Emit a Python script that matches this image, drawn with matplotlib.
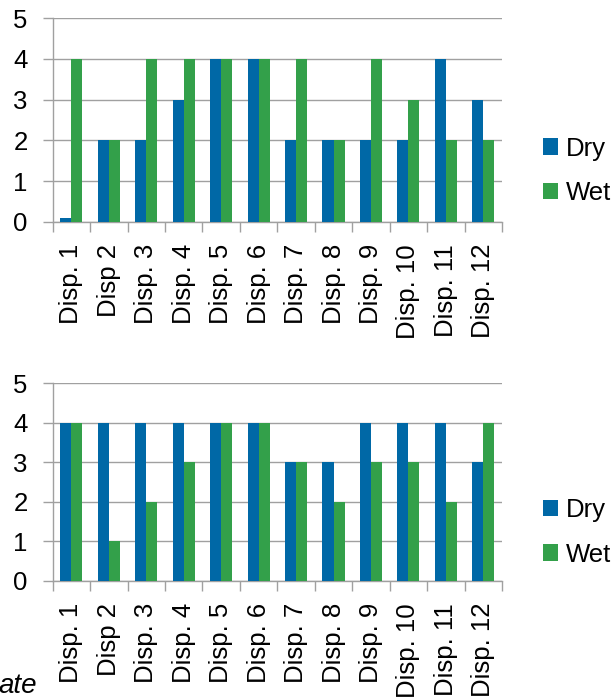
import matplotlib.pyplot as plt
import numpy as np

plt.rcParams["font.family"] = ["Liberation Sans", "DejaVu Sans"]

CATEGORIES = ["Disp. 1", "Disp 2", "Disp. 3", "Disp. 4", "Disp. 5", "Disp. 6",
              "Disp. 7", "Disp. 8", "Disp. 9", "Disp. 10", "Disp. 11", "Disp. 12"]

TOP_DRY = [0.08, 2, 2, 3, 4, 4, 2, 2, 2, 2, 4, 3]
TOP_WET = [4, 2, 4, 4, 4, 4, 4, 2, 4, 3, 2, 2]

BOTTOM_DRY = [4, 4, 4, 4, 4, 4, 3, 3, 4, 4, 4, 3]
BOTTOM_WET = [4, 1, 2, 3, 4, 4, 3, 2, 3, 3, 2, 4]

BLUE = "#0068a6"
GREEN = "#33a04a"
GRID = "#a0a0a0"

W, H = 613, 698


def draw_panel(fig, rect, dry, wet, legend_y):
    ax = fig.add_axes(rect)
    x = np.arange(len(CATEGORIES))
    bw = 0.295
    ax.bar(x - bw / 2, dry, width=bw, color=BLUE, label="Dry", zorder=3)
    ax.bar(x + bw / 2, wet, width=bw, color=GREEN, label="Wet", zorder=3)

    ax.set_xlim(-0.5, len(CATEGORIES) - 0.5)
    ax.set_ylim(0, 5)
    ax.set_yticks(range(6))
    ax.yaxis.grid(True, color=GRID, lw=1.0, zorder=0)
    ax.set_axisbelow(True)

    # category boundaries carry the tick marks, labels sit in between
    ax.set_xticks(np.arange(len(CATEGORIES) + 1) - 0.5)
    ax.set_xticklabels([])
    ax.set_xticks(x, minor=True)
    ax.set_xticklabels(CATEGORIES, minor=True, rotation=90, fontsize=18.5)
    ax.tick_params(axis="x", which="major", length=7, width=1, color=GRID,
                   direction="out")
    ax.tick_params(axis="x", which="minor", length=0, pad=16)
    ax.tick_params(axis="y", length=7, width=1, color=GRID, labelsize=18.5,
                   pad=11)

    for side in ("top", "right"):
        ax.spines[side].set_visible(False)
    for side in ("left", "bottom"):
        ax.spines[side].set_color(GRID)
        ax.spines[side].set_linewidth(1.0)

    ax.legend(loc="center left", bbox_to_anchor=(1.039, legend_y),
              frameon=False, fontsize=18.5, handlelength=0.6,
              handleheight=0.6, handletextpad=0.3, labelspacing=0.8)
    return ax


fig = plt.figure(figsize=(W / 100, H / 100), dpi=100)


# rectangles in pixel coordinates, converted to figure fractions
def rect(x0, y0, x1, y1):
    return [x0 / W, 1 - y1 / H, (x1 - x0) / W, (y1 - y0) / H]


draw_panel(fig, rect(52.7, 18.3, 502, 221.7), TOP_DRY, TOP_WET, 0.25)
draw_panel(fig, rect(52.7, 383.3, 502, 580.7), BOTTOM_DRY, BOTTOM_WET, 0.245)

fig.text(37 / W, 1 - 693 / H, "ate", ha="right", va="baseline",
         fontsize=20, style="italic")

fig.savefig("out.png", dpi=100)
